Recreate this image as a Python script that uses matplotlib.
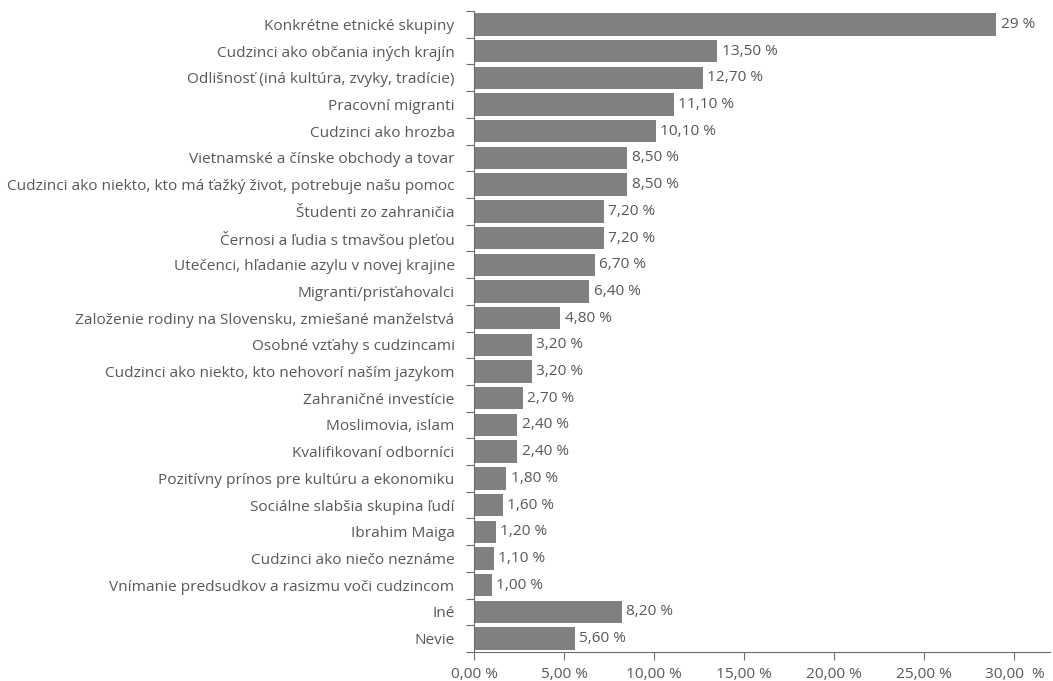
import matplotlib
matplotlib.use("Agg")
import matplotlib.pyplot as plt
from matplotlib.ticker import FixedLocator

categories = [
    "Konkrétne etnické skupiny",
    "Cudzinci ako občania iných krajín",
    "Odlišnosť (iná kultúra, zvyky, tradície)",
    "Pracovní migranti",
    "Cudzinci ako hrozba",
    "Vietnamské a čínske obchody a tovar",
    "Cudzinci ako niekto, kto má ťažký život, potrebuje našu pomoc",
    "Študenti zo zahraničia",
    "Černosi a ľudia s tmavšou pleťou",
    "Utečenci, hľadanie azylu v novej krajine",
    "Migranti/prisťahovalci",
    "Založenie rodiny na Slovensku, zmiešané manželstvá",
    "Osobné vzťahy s cudzincami",
    "Cudzinci ako niekto, kto nehovorí naším jazykom",
    "Zahraničné investície",
    "Moslimovia, islam",
    "Kvalifikovaní odborníci",
    "Pozitívny prínos pre kultúru a ekonomiku",
    "Sociálne slabšia skupina ľudí",
    "Ibrahim Maiga",
    "Cudzinci ako niečo neznáme",
    "Vnímanie predsudkov a rasizmu voči cudzincom",
    "Iné",
    "Nevie",
]
values = [29, 13.5, 12.7, 11.1, 10.1, 8.5, 8.5, 7.2, 7.2, 6.7, 6.4, 4.8, 3.2, 3.2,
          2.7, 2.4, 2.4, 1.8, 1.6, 1.2, 1.1, 1.0, 8.2, 5.6]
value_labels = ["29 %"] + [f"{v:.2f}".replace(".", ",") + " %" for v in values[1:]]
xticks = [0, 5, 10, 15, 20, 25, 30]
xtick_labels = ["0,00 %", "5,00 %", "10,00 %", "15,00 %", "20,00 %", "25,00 %", "30,00  %"]

plt.rcParams['font.family'] = ['Open Sans', 'DejaVu Sans']
text_color = "#58585a"
bar_color = "#808083"
fs = 11.1

fig = plt.figure(figsize=(10.53, 6.81), dpi=100)
ax = fig.add_axes([0.4501, 0.0426, 0.9975 - 0.4501, 0.9838 - 0.0426])

n = len(categories)
ypos = list(range(n))
ax.barh(ypos, values, height=0.84, color=bar_color, zorder=2)
for y, v, lab in zip(ypos, values, value_labels):
    ax.text(v + 0.25, y, lab, va="center", ha="left", fontsize=fs, color=text_color)

ax.set_xlim(0, 32)
ax.set_ylim(n - 0.5, -0.5)
ax.set_yticks(ypos)
ax.set_yticklabels(categories, fontsize=fs, color=text_color)
ax.tick_params(axis="y", which="major", length=0, pad=14)
ax.yaxis.set_minor_locator(FixedLocator([i - 0.5 for i in range(n + 1)]))
ax.tick_params(axis="y", which="minor", length=6, color="#6d6d6d", width=0.8)

ax.set_xticks(xticks)
ax.set_xticklabels(xtick_labels, fontsize=fs, color=text_color)
ax.tick_params(axis="x", length=6, color="#6d6d6d", width=0.8, pad=5)

for s in ["top", "right"]:
    ax.spines[s].set_visible(False)
for s in ["left", "bottom"]:
    ax.spines[s].set_color("#6d6d6d")
    ax.spines[s].set_linewidth(0.8)

fig.savefig("out.png", dpi=100)
